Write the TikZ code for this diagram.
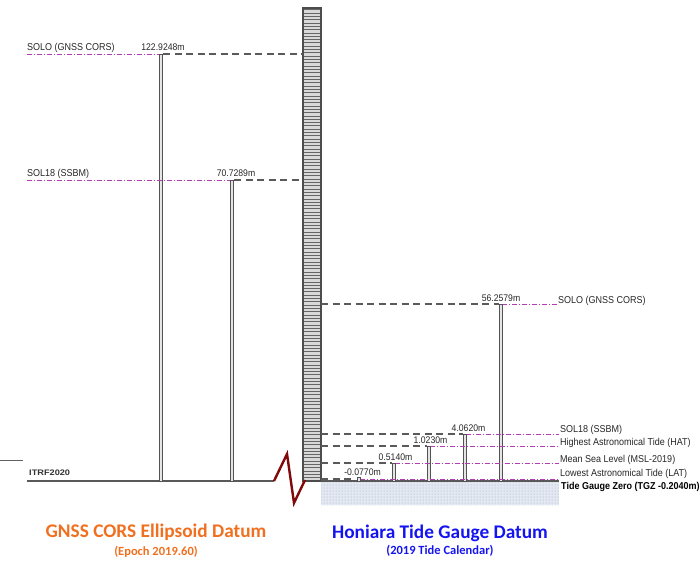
\documentclass[tikz,border=0pt]{standalone}
\usepackage{fontspec}
\setmainfont{Liberation Sans}
\newfontfamily\narrowfont[FakeStretch=0.9]{Liberation Sans}
\newfontfamily\widefont[FakeStretch=1.15]{Liberation Sans}
\newfontfamily\titlefont{Carlito}
\usetikzlibrary{patterns}
\definecolor{lvlmag}{RGB}{180,60,180}
\definecolor{dashgray}{RGB}{90,90,90}
\definecolor{orangeT}{RGB}{240,112,32}
\definecolor{blueT}{RGB}{20,20,240}
\definecolor{zigred}{RGB}{128,10,10}
\definecolor{seabg}{RGB}{226,232,244}
\begin{document}
\begin{tikzpicture}[x=1pt,y=-1pt,
  lbl/.style={font=\narrowfont\fontsize{10}{11}\selectfont, inner sep=0pt, text=black!85, anchor=base west},
  num/.style={font=\narrowfont\fontsize{9.6}{11}\selectfont, inner sep=0pt, anchor=base, text=black!85},
  magline/.style={draw=lvlmag, line width=0.9pt, dash pattern=on 5pt off 2pt on 1pt off 2pt},
  grayd/.style={draw=dashgray, line width=1.3pt, dash pattern=on 7pt off 4.5pt},
  bar/.style={draw=gray!65!black, fill=gray!20, line width=0.7pt},
  baseln/.style={draw=gray!70!black, line width=1.3pt},
  ttl/.style={font=\titlefont\bfseries\fontsize{19.3}{22}\selectfont, anchor=base, inner sep=0pt},
  subttl/.style={font=\titlefont\bfseries\fontsize{12.5}{14}\selectfont, anchor=base, inner sep=0pt},
]
\useasboundingbox (0,0) rectangle (700,560);

% ---- sea area
\fill[seabg] (321,481) rectangle (559,505);
\fill[pattern=dots, pattern color=gray!70] (321,481) rectangle (559,505);

% ---- column
\fill[gray!30] (303,8) rectangle (321,481);
\foreach \k in {0,...,141} \draw[black!60, line width=0.45pt] (303,9.5+\k*3.32) -- (321,9.5+\k*3.32);
\draw[gray!60!black, line width=1.1pt] (303,8) rectangle (321,481);

% ---- small top-left line
\coordinate (tl1) at (0,460); \coordinate (tl2) at (23,460);
\draw[gray!75!black, line width=0.8pt] (tl1) -- (tl2);

% ---- baselines
\coordinate (lb1) at (27,481); \coordinate (lb2) at (274,481);
\draw[baseln] (lb1) -- (lb2);
\coordinate (rb1) at (321,481); \coordinate (rb2) at (559,481);
\draw[baseln] (rb1) -- (rb2);

% ---- zigzag
\coordinate (z0) at (274,481); \coordinate (z1) at (287,454);
\coordinate (z2) at (294,503); \coordinate (z3) at (305,480);
\draw[zigred, line width=2.4pt, line join=miter] (z0) -- (z1) -- (z2) -- (z3);

% ---- left levels
\coordinate (ls0) at (27,54); \coordinate (ls1) at (159,54); \coordinate (ls2) at (163,54); \coordinate (ls3) at (303,54);
\draw[magline] (ls0) -- (ls1);
\draw[grayd] (ls2) -- (ls3);
\draw[bar] (159,54) rectangle (162,481);
\node[lbl] (lsolo) at (27,50) {SOLO (GNSS CORS)};
\node[num] (lsolon) at (163,50) {122.9248m};

\coordinate (lm0) at (27,180); \coordinate (lm1) at (230,180); \coordinate (lm2) at (234,180); \coordinate (lm3) at (303,180);
\draw[magline] (lm0) -- (lm1);
\draw[grayd] (lm2) -- (lm3);
\draw[bar] (230,180) rectangle (233,481);
\node[lbl] (lsol18) at (27,176) {SOL18 (SSBM)};
\node[num] (lsol18n) at (236,176) {70.7289m};

\node[font=\widefont\bfseries\fontsize{8}{9}\selectfont, anchor=base west, inner sep=0pt, text=black!80] (itrf) at (29,475) {ITRF2020};

% ---- right levels
% SOLO
\coordinate (rs0) at (321,304); \coordinate (rs1) at (499,304); \coordinate (rs2) at (502,304); \coordinate (rs3) at (557,304);
\draw[grayd] (rs0) -- (rs1);
\draw[magline] (rs2) -- (rs3);
\draw[bar] (499,304) rectangle (502,481);
\node[lbl] (rsolo) at (558,303.5) {SOLO (GNSS CORS)};
\node[num] (rsolon) at (501,301) {56.2579m};
% SOL18
\coordinate (rm0) at (321,434); \coordinate (rm1) at (463,434); \coordinate (rm2) at (466,434); \coordinate (rm3) at (559,434);
\draw[grayd] (rm0) -- (rm1);
\draw[magline] (rm2) -- (rm3);
\draw[bar] (463,434) rectangle (466,481);
\node[lbl] (rsol18) at (560,432.5) {SOL18 (SSBM)};
\node[num] (rsol18n) at (468.5,431) {4.0620m};
% HAT
\coordinate (rh0) at (321,446); \coordinate (rh1) at (427,446); \coordinate (rh2) at (430,446); \coordinate (rh3) at (559,446);
\draw[grayd] (rh0) -- (rh1);
\draw[magline] (rh2) -- (rh3);
\draw[bar] (427,446) rectangle (430,481);
\node[lbl] (rhat) at (560,445.5) {Highest Astronomical Tide (HAT)};
\node[num] (rhatn) at (430.5,443) {1.0230m};
% MSL
\coordinate (rq0) at (321,463); \coordinate (rq1) at (392,463); \coordinate (rq2) at (395,463); \coordinate (rq3) at (559,463);
\draw[grayd] (rq0) -- (rq1);
\draw[magline] (rq2) -- (rq3);
\draw[bar] (392,463) rectangle (395,481);
\node[lbl] (rmsl) at (560,462.5) {Mean Sea Level (MSL-2019)};
\node[num] (rmsln) at (395.5,460) {0.5140m};
% LAT
\coordinate (rl0) at (321,479); \coordinate (rl1) at (355,479); \coordinate (rl2) at (360,479); \coordinate (rl3) at (559,479);
\draw[grayd] (rl0) -- (rl1);
\draw[magline] (rl2) -- (rl3);
\draw[bar] (357,477) rectangle (360,481);
\node[lbl] (rlat) at (560,476.5) {Lowest Astronomical Tide (LAT)};
\node[num] (rlatn) at (362.5,475) {-0.0770m};
% TGZ
\node[lbl, font=\narrowfont\bfseries\fontsize{10}{11}\selectfont, text=black] (tgz) at (561,489.5) {Tide Gauge Zero (TGZ -0.2040m)};

% ---- titles
\node[ttl, text=orangeT] (t1) at (156,537) {GNSS CORS Ellipsoid Datum};
\node[subttl, text=orangeT] (t1s) at (156,555) {(Epoch 2019.60)};
\node[ttl, text=blueT] (t2) at (440,538) {Honiara Tide Gauge Datum};
\node[subttl, text=blueT] (t2s) at (440,554) {(2019 Tide Calendar)};
\end{tikzpicture}
\end{document}
